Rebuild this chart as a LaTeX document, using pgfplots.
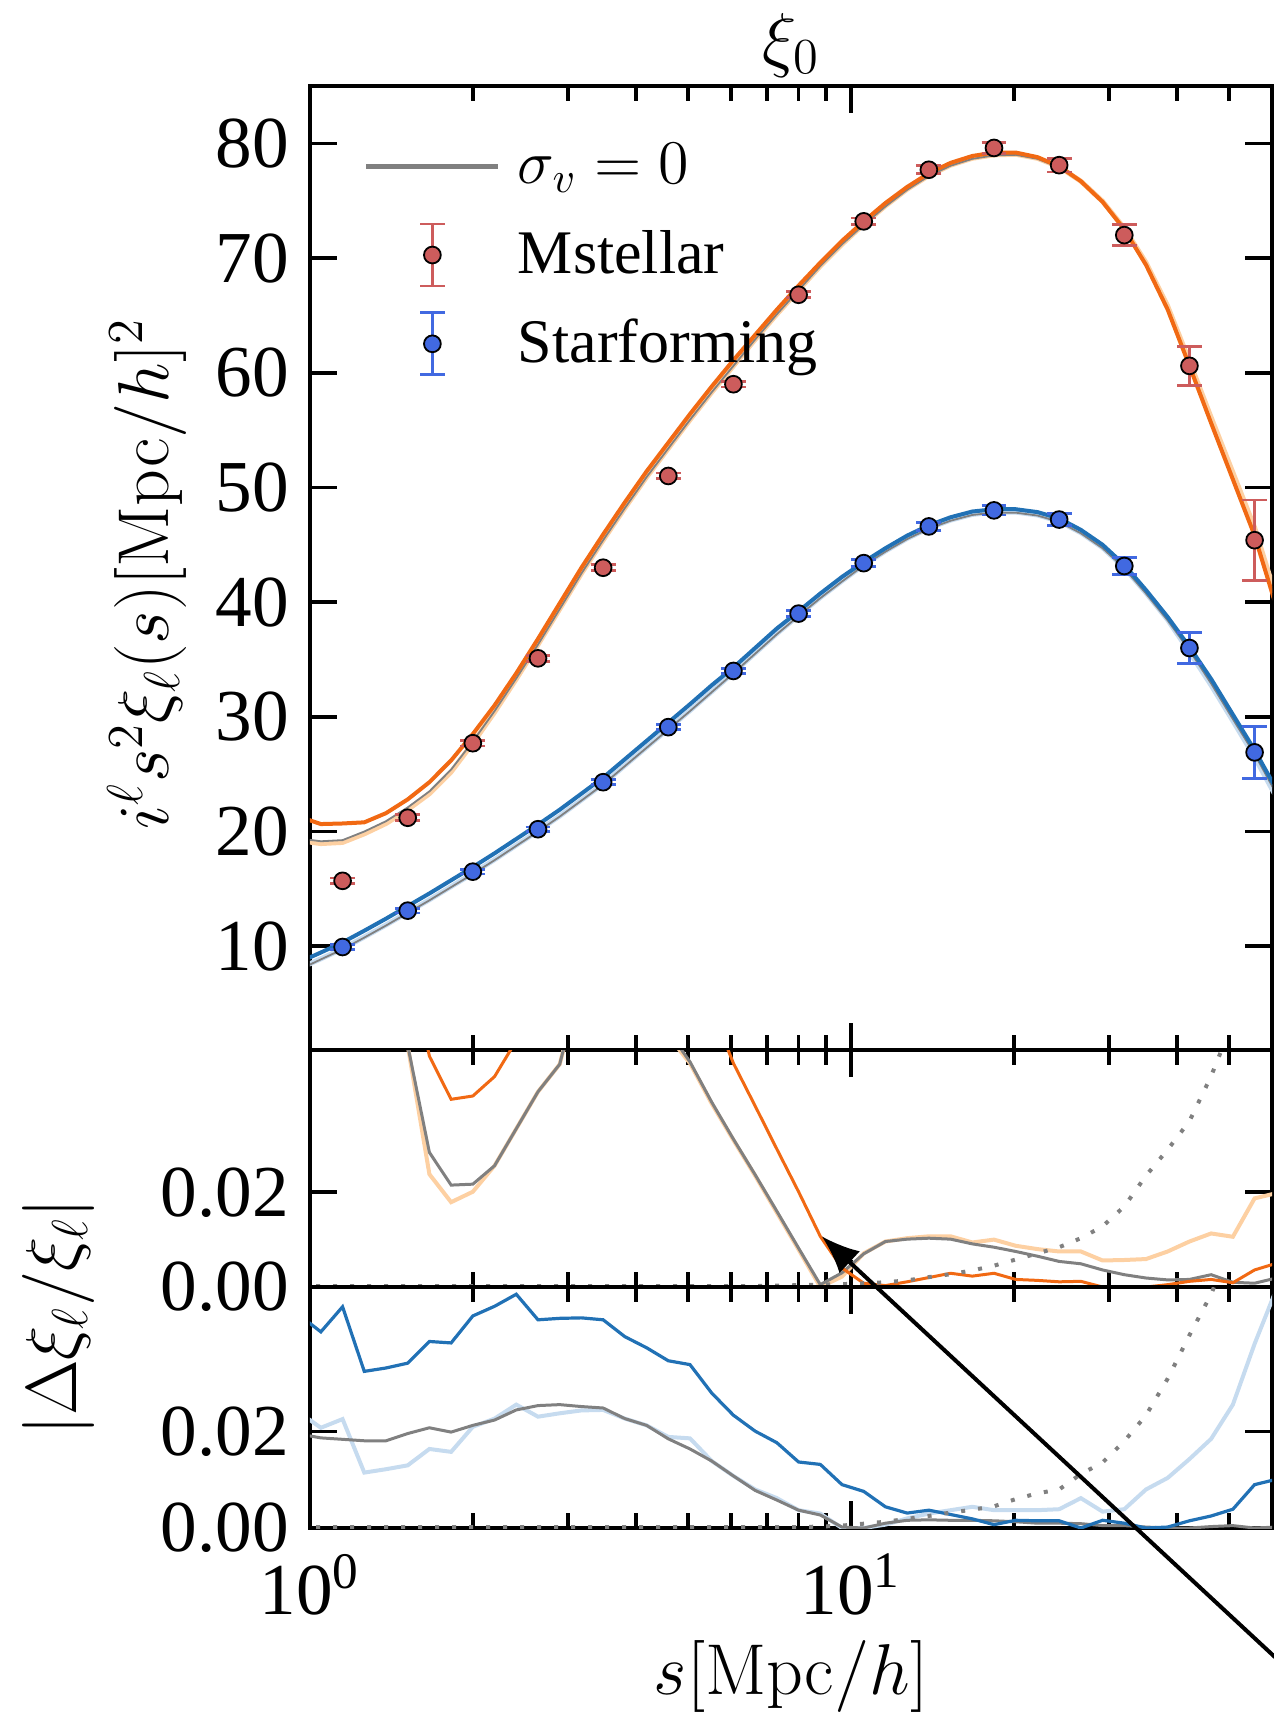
\RequirePackage{fix-cm}
\documentclass[border=0pt]{standalone}
\usepackage[no-math]{fontspec}
\setmainfont{Liberation Serif}
\usepackage{pgfplots}
\pgfplotsset{compat=1.18}
\usepackage{pgfplotstable}
\usetikzlibrary{arrows.meta}

\definecolor{dorange}{RGB}{241,105,19}
\definecolor{peach}{RGB}{253,208,162}
\definecolor{dblue}{RGB}{33,113,181}
\definecolor{lblue}{RGB}{198,219,239}
\definecolor{mgray}{RGB}{128,128,128}
\definecolor{ired}{RGB}{205,92,92}
\definecolor{rblue}{RGB}{65,105,225}

\pgfplotstableread{
s orange peach grayM dblue lblue grayS
0.9548 21.3 19.2 19.4 8.6 8.05 7.95
1.0473 20.65 18.95 19.15 9.45 8.9 8.85
1.1487 20.7 19.05 19.25 10.33 9.78 9.73
1.2599 20.8 19.8 20.0 11.35 10.8 10.75
1.3819 21.6 20.7 20.9 12.4 11.85 11.8
1.5157 22.8 21.9 22.1 13.5 12.95 12.9
1.6624 24.3 23.3 23.5 14.6 14.05 14.0
1.8234 26.2 25.2 25.4 15.75 15.2 15.15
2 28.5 27.7 27.85 16.9 16.35 16.3
2.1936 31.0 30.4 30.5 18.1 17.55 17.5
2.4060 33.8 33.3 33.35 19.35 18.8 18.75
2.6390 36.8 36.3 36.3 20.6 20.05 20.0
2.8945 39.9 39.4 39.4 21.9 21.35 21.3
3.1748 43.0 42.5 42.5 23.3 22.75 22.7
3.4822 45.9 45.4 45.4 24.7 24.15 24.1
3.8193 48.7 48.2 48.2 26.3 25.75 25.7
4.1890 51.4 50.9 50.9 27.9 27.35 27.3
4.5948 53.9 53.4 53.4 29.5 28.95 28.9
5.0397 56.4 55.9 55.9 31.1 30.55 30.5
5.5277 58.8 58.3 58.3 32.75 32.2 32.15
6.0629 61.1 60.6 60.6 34.3 33.85 33.8
6.6499 63.3 62.9 62.9 36.0 35.55 35.5
7.2937 65.5 65.1 65.1 37.7 37.25 37.2
8 67.6 67.2 67.2 39.2 38.85 38.8
8.7746 69.6 69.3 69.3 40.75 40.4 40.35
9.6242 71.5 71.2 71.2 42.2 41.85 41.8
10.556 73.2 72.95 72.9 43.5 43.25 43.2
11.578 74.8 74.55 74.5 44.7 44.45 44.4
12.699 76.2 76.0 75.95 45.8 45.55 45.5
13.929 77.4 77.2 77.15 46.7 46.45 46.4
15.278 78.3 78.1 78.05 47.4 47.15 47.1
16.757 78.9 78.7 78.65 47.9 47.65 47.6
18.379 79.2 79.0 78.95 48.1 47.85 47.8
20.159 79.2 79.05 79.0 48.1 47.85 47.8
22.111 78.8 78.7 78.65 47.85 47.6 47.55
24.251 78.0 77.95 77.9 47.3 47.05 47.0
26.600 76.7 76.7 76.65 46.3 46.05 46.0
29.175 74.9 74.95 74.9 45.0 44.75 44.7
32 72.5 72.6 72.55 43.25 43.0 42.95
35.098 69.4 69.6 69.5 41.05 40.8 40.75
38.497 65.5 65.8 65.65 38.7 38.45 38.4
42.224 60.6 61.0 60.75 36.1 35.65 35.8
46.312 55.6 56.1 55.75 33.3 32.75 32.9
50.797 50.7 51.3 50.85 30.2 29.65 29.8
55.715 45.8 46.5 45.9 27.1 26.5 26.75
61.109 39.6 40.4 39.7 23.7 23.0 23.3
}\topmodels

\pgfplotstableread{
s y e
1.1487 15.7 0.25
1.5157 21.2 0.25
2 27.7 0.25
2.6390 35.1 0.25
3.4822 43.0 0.25
4.5948 51.0 0.25
6.0629 59.0 0.25
8 66.8 0.25
10.556 73.2 0.3
13.929 77.7 0.35
18.379 79.6 0.5
24.251 78.1 0.6
32 72.0 0.9
42.224 60.6 1.7
55.715 45.4 3.5
}\mstellar

\pgfplotstableread{
s y e
1.1487 9.93 0.2
1.5157 13.1 0.2
2 16.5 0.2
2.6390 20.2 0.2
3.4822 24.3 0.2
4.5948 29.1 0.2
6.0629 34.0 0.2
8 39.0 0.25
10.556 43.4 0.3
13.929 46.6 0.35
18.379 48.0 0.4
24.251 47.2 0.5
32 43.15 0.77
42.224 36.0 1.35
55.715 26.9 2.25
}\starf

\pgfplotstableread{
s o p g dot
0.9548 0.095 0.09 0.09 0.0002
1.0473 0.09 0.085 0.085 0.0002
1.1487 0.085 0.08 0.08 0.0002
1.2599 0.08 0.075 0.075 0.0002
1.3819 0.075 0.07 0.07 0.0002
1.5157 0.07 0.051 0.051 0.0002
1.6624 0.0487 0.0238 0.0284 0.0002
1.8234 0.0396 0.0179 0.0215 0.0002
2 0.0403 0.0201 0.0217 0.0002
2.1936 0.0444 0.0256 0.0256 0.0002
2.4060 0.052 0.0334 0.0334 0.0002
2.6390 0.07 0.0412 0.0412 0.0002
2.8945 0.08 0.047 0.047 0.0002
3.1748 0.08 0.065 0.065 0.0002
3.4822 0.08 0.08 0.08 0.0002
3.8193 0.08 0.08 0.08 0.0002
4.1890 0.08 0.07 0.07 0.0002
4.5948 0.08 0.053 0.054 0.0002
5.0397 0.08 0.0472 0.0475 0.0002
5.5277 0.0586 0.0387 0.0390 0.0002
6.0629 0.0472 0.0310 0.0312 0.0002
6.6499 0.0382 0.0235 0.0237 0.0002
7.2937 0.0291 0.0157 0.0160 0.0003
8 0.0201 0.0079 0.0082 0.0004
8.7746 0.0107 0.0000 0.0005 0.0005
9.6242 0.0040 0.0022 0.0030 0.0006
10.556 0.0008 0.0071 0.0070 0.0008
11.578 0.0003 0.0096 0.0096 0.0010
12.699 0.0011 0.0103 0.0101 0.0014
13.929 0.0020 0.0107 0.0103 0.0021
15.278 0.0029 0.0107 0.0101 0.0027
16.757 0.0023 0.0094 0.0091 0.0035
18.379 0.0029 0.0100 0.0084 0.0045
20.159 0.0016 0.0087 0.0075 0.0058
22.111 0.0014 0.0080 0.0065 0.0071
24.251 0.0011 0.0075 0.0054 0.0084
26.600 0.0012 0.0075 0.0049 0.0103
29.175 0.0000 0.0056 0.0036 0.0128
32 0.0000 0.0057 0.0026 0.0170
35.098 0.0000 0.0059 0.0019 0.0235
38.497 0.0005 0.0075 0.0015 0.0290
42.224 0.0012 0.0096 0.0016 0.0350
46.312 0.0016 0.0113 0.0026 0.0445
50.797 0.0009 0.0106 0.0010 0.056
55.715 0.0036 0.0187 0.0008 0.070
61.109 0.0050 0.0198 0.0019 0.085
}\midres

\pgfplotstableread{
s b lb g dot
0.9548 0.0442 0.0240 0.0195 0.0002
1.0473 0.0407 0.0208 0.0187 0.0002
1.1487 0.0459 0.0226 0.0184 0.0002
1.2599 0.0325 0.0115 0.0181 0.0002
1.3819 0.0332 0.0122 0.0181 0.0002
1.5157 0.0342 0.0130 0.0196 0.0002
1.6624 0.0387 0.0164 0.0208 0.0002
1.8234 0.0384 0.0158 0.0199 0.0002
2 0.0440 0.0210 0.0213 0.0002
2.1936 0.0460 0.0227 0.0224 0.0002
2.4060 0.0485 0.0256 0.0245 0.0002
2.6390 0.0432 0.0231 0.0254 0.0002
2.8945 0.0435 0.0238 0.0256 0.0002
3.1748 0.0436 0.0244 0.0252 0.0002
3.4822 0.0432 0.0245 0.0249 0.0002
3.8193 0.0397 0.0227 0.0227 0.0002
4.1890 0.0374 0.0213 0.0213 0.0002
4.5948 0.0347 0.0189 0.0185 0.0002
5.0397 0.0339 0.0186 0.0164 0.0002
5.5277 0.0280 0.0139 0.0139 0.0002
6.0629 0.0234 0.0108 0.0108 0.0002
6.6499 0.0201 0.0080 0.0078 0.0002
7.2937 0.0177 0.0062 0.0058 0.0002
8 0.0137 0.0037 0.0037 0.0002
8.7746 0.0132 0.0030 0.0027 0.0003
9.6242 0.0090 0.0000 0.0002 0.0005
10.556 0.0076 0.0000 0.0000 0.0009
11.578 0.0044 0.0007 0.0010 0.0013
12.699 0.0031 0.0020 0.0016 0.0019
13.929 0.0037 0.0030 0.0017 0.0025
15.278 0.0028 0.0037 0.0016 0.0032
16.757 0.0019 0.0044 0.0016 0.0038
18.379 0.0007 0.0037 0.0015 0.0045
20.159 0.0016 0.0037 0.0013 0.0060
22.111 0.0015 0.0037 0.0010 0.0072
24.251 0.0015 0.0039 0.0010 0.0080
26.600 0.0000 0.0062 0.0009 0.0112
29.175 0.0016 0.0034 0.0005 0.0136
32 0.0010 0.0039 0.0005 0.0180
35.098 0.0000 0.0080 0.0002 0.0234
38.497 0.0002 0.0104 0.0000 0.0310
42.224 0.0015 0.0143 0.0000 0.0400
46.312 0.0025 0.0185 0.0003 0.0485
50.797 0.0039 0.0256 0.0005 0.060
55.715 0.0090 0.0382 0.0000 0.075
61.109 0.0101 0.0495 0.0002 0.090
}\botres

\begin{document}
\begin{tikzpicture}
% ---------------- top panel ----------------
\begin{axis}[scale only axis, width=240.5pt, xmode=log, xmin=1, xmax=60,
    tick align=inside, major tick length=6.75pt, minor tick length=3.75pt,
    every tick/.style={black, line width=0.9pt},
    axis line style={line width=0.9pt},
    xtick={1,10}, minor xtick={2,3,4,5,6,7,8,9,20,30,40,50},
    tick label style={font=\fontsize{18.3}{22}\selectfont},
    yticklabel style={xshift=-1.8pt},
    label style={font=\fontsize{18}{22}\selectfont},
    scaled y ticks=false,
  at={(77.5pt,-21.5pt)}, anchor=north west, height=241pt,
  ymin=0.95, ymax=85, ytick={10,20,...,80}, yticklabels={10,20,30,40,50,60,70,80},
  xticklabels={,,},
  title={$\xi_0$}, title style={at={(0.5,1)}, anchor=base, yshift=-0.25pt, font=\fontsize{18}{22}\selectfont},
  ylabel={$i^\ell s^2\xi_\ell(s)[\mathrm{Mpc}/h]^2$},
  ylabel style={at={(axis description cs:-0.1466,0.494)}, anchor=base},
  legend style={draw=none, fill=none, inner sep=0pt, row sep=0pt,
    at={(axis description cs:0.0551,0.9637)}, anchor=north west,
    font=\fontsize{15.5}{18}\selectfont, nodes={inner sep=0pt},
    /tikz/every odd column/.append style={column sep=4.25pt}},
  legend cell align=left]
\addlegendimage{legend image code/.code={\path[draw=none, fill=none] (0pt,-11.1pt) rectangle (33pt,11.1pt);
   \draw[mgray, line width=1.3pt] (0pt,0pt) -- (33pt,0pt);}}
\addlegendentry{$\sigma_v=0$}
\addlegendimage{legend image code/.code={
      \path[draw=none, fill=none] (0pt,-11.1pt) rectangle (33pt,11.1pt);
      \draw[ired, line width=0.7pt] (16.5pt,-7.75pt) -- (16.5pt,7.75pt)
           (13.4pt,-7.75pt) -- (19.6pt,-7.75pt) (13.4pt,7.75pt) -- (19.6pt,7.75pt);
      \draw[black, fill=ired, line width=0.45pt] (16.5pt,0pt) circle (2.1pt);}}
\addlegendentry{Mstellar}
\addlegendimage{legend image code/.code={
      \path[draw=none, fill=none] (0pt,-11.1pt) rectangle (33pt,11.1pt);
      \draw[rblue, line width=0.7pt] (16.5pt,-7.75pt) -- (16.5pt,7.75pt)
           (13.4pt,-7.75pt) -- (19.6pt,-7.75pt) (13.4pt,7.75pt) -- (19.6pt,7.75pt);
      \draw[black, fill=rblue, line width=0.45pt] (16.5pt,0pt) circle (2.1pt);}}
\addlegendentry{Starforming}

\addplot[peach, line width=1.25pt, forget plot] table[x=s, y=peach] {\topmodels};
\addplot[mgray, line width=0.45pt, forget plot] table[x=s, y=grayM] {\topmodels};
\addplot[dorange, line width=1pt, forget plot] table[x=s, y=orange] {\topmodels};
\addplot[lblue, line width=1.25pt, forget plot] table[x=s, y=lblue] {\topmodels};
\addplot[mgray, line width=0.45pt, forget plot] table[x=s, y=grayS] {\topmodels};
\addplot[dblue, line width=1pt, forget plot] table[x=s, y=dblue] {\topmodels};

\addplot[only marks, mark=*, mark size=2.1pt, mark options={fill=ired, draw=black, line width=0.45pt},
  forget plot,
  error bars/.cd, y dir=both, y explicit,
  error bar style={ired, line width=0.7pt},
  error mark options={ired, line width=0.7pt, mark size=3.1pt, rotate=90}]
  table[x=s, y=y, y error=e] {\mstellar};
\addplot[only marks, mark=*, mark size=2.1pt, mark options={fill=rblue, draw=black, line width=0.45pt},
  forget plot,
  error bars/.cd, y dir=both, y explicit,
  error bar style={rblue, line width=0.7pt},
  error mark options={rblue, line width=0.7pt, mark size=3.1pt, rotate=90}]
  table[x=s, y=y, y error=e] {\starf};
\end{axis}

% ---------------- middle panel ----------------
\begin{axis}[scale only axis, width=240.5pt, xmode=log, xmin=1, xmax=60,
    tick align=inside, major tick length=6.75pt, minor tick length=3.75pt,
    every tick/.style={black, line width=0.9pt},
    axis line style={line width=0.9pt},
    xtick={1,10}, minor xtick={2,3,4,5,6,7,8,9,20,30,40,50},
    tick label style={font=\fontsize{18.3}{22}\selectfont},
    yticklabel style={xshift=-1.8pt},
    scaled y ticks=false,
    ymin=0, ymax=0.05, ytick={0,0.02}, yticklabels={0.00,0.02},
    at={(77.5pt,-262.5pt)}, anchor=north west, height=59.25pt, xticklabels={,,}]
\addplot[peach, line width=1pt] table[x=s, y=p] {\midres};
\addplot[mgray, line width=0.75pt] table[x=s, y=g] {\midres};
\addplot[dorange, line width=0.75pt] table[x=s, y=o] {\midres};
\addplot[mgray, line width=1pt, dash pattern=on 1pt off 3.25pt] table[x=s, y=dot] {\midres};
\coordinate (tip) at (axis cs:8.83,0.0107);
\coordinate (tail) at (axis cs:103.3,-0.1025);
\end{axis}

% ---------------- bottom panel ----------------
\begin{axis}[scale only axis, width=240.5pt, xmode=log, xmin=1, xmax=60,
    tick align=inside, major tick length=6.75pt, minor tick length=3.75pt,
    every tick/.style={black, line width=0.9pt},
    axis line style={line width=0.9pt},
    xtick={1,10}, minor xtick={2,3,4,5,6,7,8,9,20,30,40,50},
    tick label style={font=\fontsize{18.3}{22}\selectfont},
    yticklabel style={xshift=-1.8pt},
    label style={font=\fontsize{18}{22}\selectfont},
    scaled y ticks=false,
    ymin=0, ymax=0.05, ytick={0,0.02}, yticklabels={0.00,0.02},
    at={(77.5pt,-321.75pt)}, anchor=north west, height=60.25pt,
  xticklabels={{10\textsuperscript{0}},{10\textsuperscript{1}}},
  xticklabel style={yshift=-3pt},
  xlabel={$s[\mathrm{Mpc}/h]$},
  xlabel style={at={(axis description cs:0.5,0)}, anchor=base, yshift=-41.5pt}]
\addplot[lblue, line width=1pt] table[x=s, y=lb] {\botres};
\addplot[mgray, line width=0.75pt] table[x=s, y=g] {\botres};
\addplot[dblue, line width=0.8pt] table[x=s, y=b] {\botres};
\addplot[mgray, line width=1pt, dash pattern=on 1pt off 3.25pt] table[x=s, y=dot] {\botres};
\end{axis}

\node[rotate=90, anchor=base, font=\fontsize{18}{22}\selectfont] at (19.25pt,-329.25pt) {$|\Delta\xi_\ell/\xi_\ell|$};

\draw[overlay, black, line width=1pt, -{Latex[length=9.5pt,width=7.5pt]}] (tail) -- (tip);

\pgfresetboundingbox
\path[use as bounding box] (0pt,0pt) rectangle (318.5pt,-429.25pt);
\end{tikzpicture}
\end{document}
